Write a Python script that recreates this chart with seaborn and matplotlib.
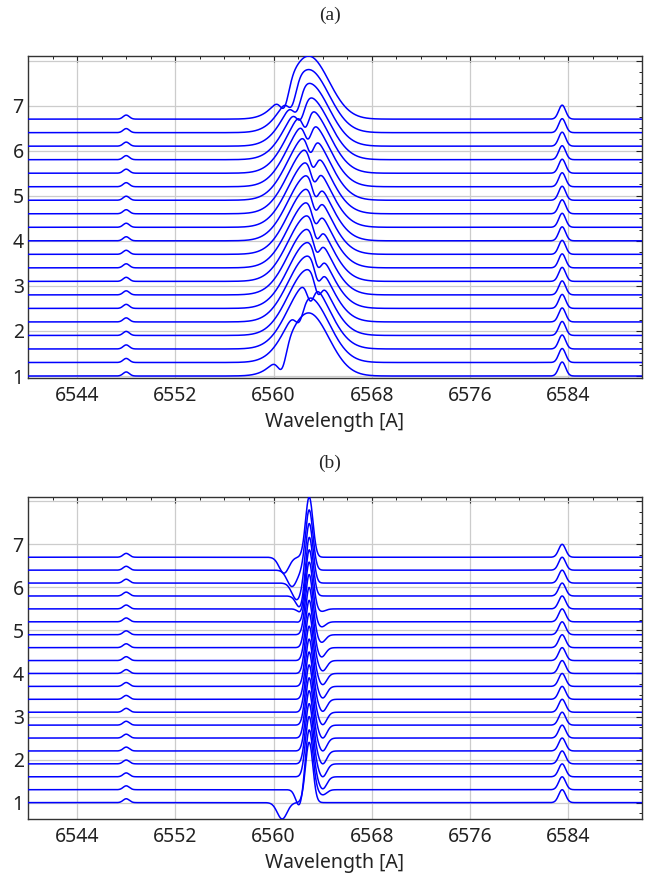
import numpy as np
import pandas as pd
import matplotlib
matplotlib.use("Agg")
import matplotlib.pyplot as plt
from matplotlib.ticker import MultipleLocator
import seaborn as sns

sns.set_theme(style="white")
plt.rcParams["font.family"] = ["Noto Sans", "DejaVu Sans"]

# vertical offsets of the 20 stacked spectra
offsets = [1.0, 1.3, 1.6, 1.9, 2.2, 2.5, 2.8, 3.1, 3.4, 3.7,
           4.0, 4.3, 4.6, 4.9, 5.2, 5.5, 5.8, 6.1, 6.4, 6.7]

# [N II] 6548 / 6583 lines
nii_center = [6548.0, 6583.5]
nii_sigma = [0.25, 0.28]
nii_amp_a = [0.09, 0.31]
nii_amp_b = [0.09, 0.30]

# panel (a): broad H-alpha emission with a travelling absorption
ha_center_a = 6562.85
ha_sigma_a = 1.65
ha_amp_a = [1.40, 1.45, 1.47, 1.47, 1.47, 1.47, 1.47, 1.47, 1.47, 1.47,
            1.47, 1.47, 1.47, 1.47, 1.46, 1.44, 1.40, 1.40, 1.40, 1.40]
abs_center_a = [6560.7, 6562.1, 6563.0, 6563.6, 6563.6, 6563.6, 6563.5, 6563.5, 6563.4, 6563.4,
                6563.4, 6563.3, 6563.2, 6563.0, 6562.8, 6562.6, 6562.2, 6561.9, 6561.5, 6560.9]
abs_depth_a = [0.42, 0.40, 0.40, 0.40, 0.40, 0.40, 0.40, 0.40, 0.40, 0.40,
               0.40, 0.40, 0.40, 0.40, 0.40, 0.40, 0.40, 0.40, 0.40, 0.42]
abs_sigma_a = [0.35, 0.35, 0.30, 0.30, 0.30, 0.30, 0.30, 0.30, 0.30, 0.30,
               0.30, 0.30, 0.30, 0.30, 0.30, 0.30, 0.35, 0.35, 0.35, 0.35]

# panel (b): narrow H-alpha emission with blue and red absorptions
ha_center_b = 6562.9
ha_sigma_b = 0.30
ha_amp_b = [1.40] * 20
blue_center_b = [6560.7, 6562.1, 6562.4, 6562.4, 6562.4, 6562.4, 6562.4, 6562.4, 6562.4, 6562.4,
                 6562.4, 6562.4, 6562.4, 6562.4, 6562.4, 6562.35, 6562.2, 6561.9, 6561.5, 6560.85]
blue_depth_b = [0.38, 0.38, 0.0, 0.0, 0.0, 0.0, 0.0, 0.0, 0.0, 0.0,
                0.0, 0.0, 0.0, 0.0, 0.05, 0.15, 0.30, 0.39, 0.38, 0.37]
blue_sigma_b = [0.40, 0.30, 0.30, 0.30, 0.30, 0.30, 0.30, 0.30, 0.30, 0.30,
                0.30, 0.30, 0.30, 0.30, 0.30, 0.30, 0.35, 0.40, 0.40, 0.40]
red_center_b = [6564.0, 6564.0, 6564.0, 6564.0, 6564.0, 6564.0, 6564.0, 6564.0, 6564.0, 6564.0,
                6564.0, 6564.0, 6563.9, 6563.9, 6563.9, 6563.9, 6563.9, 6563.9, 6563.9, 6563.9]
red_depth_b = [0.0, 0.12, 0.28, 0.30, 0.30, 0.30, 0.30, 0.29, 0.28, 0.27,
               0.26, 0.24, 0.22, 0.18, 0.12, 0.06, 0.0, 0.0, 0.0, 0.0]
red_sigma_b = 0.33

xticks = [6544, 6552, 6560, 6568, 6576, 6584]
yticks = [1, 2, 3, 4, 5, 6, 7, 8]
ytick_labels = ["1", "2", "3", "4", "5", "6", "7", ""]

wave = np.linspace(6540.0, 6590.0, 2501)


def gauss(x, c, s, a):
    return a * np.exp(-0.5 * ((x - c) / s) ** 2)


def build(panel):
    rows = []
    for i, off in enumerate(offsets):
        flux = np.full_like(wave, off)
        amps = nii_amp_a if panel == "a" else nii_amp_b
        for c, s, a in zip(nii_center, nii_sigma, amps):
            flux += gauss(wave, c, s, a)
        if panel == "a":
            flux += gauss(wave, ha_center_a, ha_sigma_a, ha_amp_a[i])
            flux -= gauss(wave, abs_center_a[i], abs_sigma_a[i], abs_depth_a[i])
        else:
            flux += gauss(wave, ha_center_b, ha_sigma_b, ha_amp_b[i])
            flux -= gauss(wave, blue_center_b[i], blue_sigma_b[i], blue_depth_b[i])
            flux -= gauss(wave, red_center_b[i], red_sigma_b, red_depth_b[i])
        rows.append(pd.DataFrame({"wavelength": wave, "flux": flux, "spectrum": i}))
    return pd.concat(rows, ignore_index=True)


fig = plt.figure(figsize=(6.6, 8.81), dpi=100)
ax_a = fig.add_axes([0.0424, 0.5709, 0.9303, 0.3655])
ax_b = fig.add_axes([0.0424, 0.0704, 0.9303, 0.3655])

for ax, panel, ylim in [(ax_a, "a", (0.955, 8.10)), (ax_b, "b", (0.62, 8.10))]:
    df = build(panel)
    sns.lineplot(data=df, x="wavelength", y="flux", units="spectrum", estimator=None,
                 color="#0000ff", linewidth=1.1, ax=ax, legend=False, zorder=3)
    ax.set_xlim(6540, 6590)
    ax.set_ylim(*ylim)
    ax.set_xticks(xticks)
    ax.set_yticks(yticks)
    ax.set_yticklabels(ytick_labels)
    ax.xaxis.set_minor_locator(MultipleLocator(2))
    ax.yaxis.set_minor_locator(MultipleLocator(0.25))
    ax.grid(True, which="major", color="#cccccc", linewidth=0.9, zorder=0)
    ax.tick_params(axis="both", which="both", direction="in", top=True, right=True,
                   colors="#222222", labelcolor="#222222")
    ax.tick_params(axis="both", which="major", length=4, width=0.8, labelsize=14)
    ax.tick_params(axis="both", which="minor", length=2.5, width=0.7)
    ax.tick_params(axis="x", which="major", pad=6)
    ax.tick_params(axis="y", which="major", pad=3)
    for sp in ax.spines.values():
        sp.set_color("#333333")
        sp.set_linewidth(1.0)
    ax.set_xlabel("Wavelength [A]", fontsize=14, color="#222222", labelpad=4)
    ax.set_ylabel("")

fig.text(0.5, 1 - 15 / 881, "(a)", ha="center", va="center",
         family="Liberation Serif", fontsize=14)
fig.text(0.5, 1 - 463 / 881, "(b)", ha="center", va="center",
         family="Liberation Serif", fontsize=14)

fig.savefig("out.png", dpi=100)
